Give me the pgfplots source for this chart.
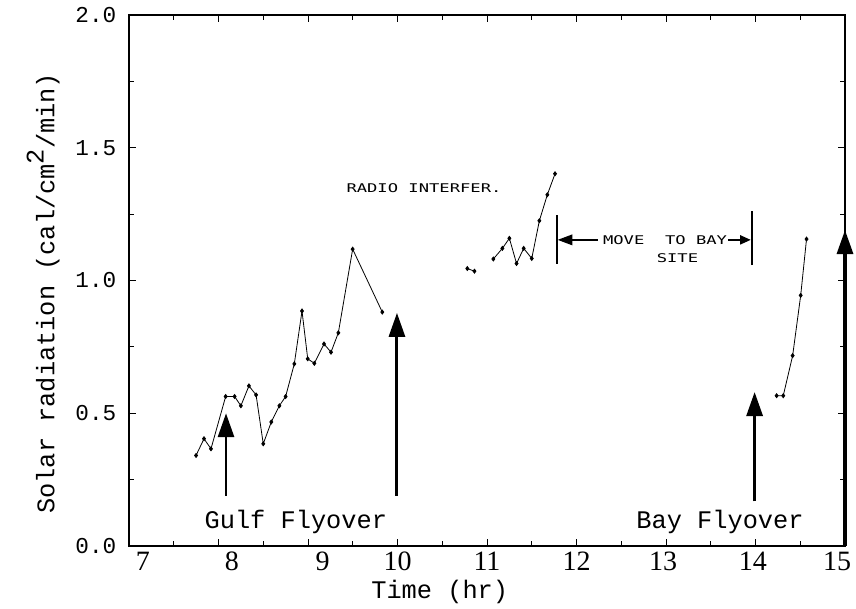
\documentclass[border=0pt]{standalone}
\usepackage{pgfplots}
\pgfplotsset{compat=1.18}
\usetikzlibrary{arrows.meta}
\usepackage{fontspec}
\setmainfont{Liberation Mono}
\newfontfamily\serifnum{Liberation Serif}
\newfontfamily\plotter[FakeStretch=1.43]{DejaVu Sans Mono}
\begin{document}
\begin{tikzpicture}
\begin{axis}[
  name=ax,
  scale only axis,
  width=537pt, height=398.25pt,
  xmin=7, xmax=15, ymin=0, ymax=2,
  xtick={7,8,...,15}, ytick={0,0.5,...,2},
  xticklabels={\hspace*{21pt}7,\hspace*{20pt}8,\hspace*{22pt}9,10,11,12,\hspace*{-4.5pt}13,\hspace*{-4pt}14,\hspace*{-12pt}15},
  minor x tick num=1, minor y tick num=1,
  tick align=inside,
  major tick length=5pt, minor tick length=4pt,
  axis line style={line width=0.9pt},
  every tick/.style={black, line width=0.7pt},
  clip=false,
  /pgf/number format/assume math mode=true,
  xticklabel style={font=\serifnum\fontsize{21}{23}\selectfont, yshift=-1pt},
  yticklabel style={font=\fontsize{17}{19}\selectfont, xshift=-6pt,
    /pgf/number format/.cd, fixed, fixed zerofill, precision=1},
  xlabel={Time (hr)},
  ylabel={Solar radiation (cal/cm\raisebox{0.8ex}{2}/min)},
  xlabel style={at={(axis description cs:0.434,-0.087)}, anchor=center,
    font=\fontsize{19}{21}\selectfont},
  ylabel style={at={(axis description cs:-0.120,0.476)}, anchor=center, rotate=0,
    font=\fontsize{19}{21}\selectfont},
]
\addplot[black, line width=0.6pt, mark=diamond*, mark size=1.5pt] coordinates {
(7.749,0.341) (7.838,0.404) (7.916,0.366) (8.080,0.563) (8.180,0.563)
(8.250,0.528) (8.340,0.603) (8.420,0.569) (8.500,0.385) (8.590,0.467)
(8.680,0.528) (8.750,0.563) (8.847,0.686) (8.933,0.885) (8.997,0.705)
(9.071,0.688) (9.179,0.761) (9.257,0.730) (9.339,0.803) (9.499,1.118)
(9.830,0.881)
};
\addplot[black, line width=0.6pt, mark=diamond*, mark size=1.5pt] coordinates {
(10.78,1.045) (10.86,1.035)
};
\addplot[black, line width=0.6pt, mark=diamond*, mark size=1.5pt] coordinates {
(11.071,1.081) (11.172,1.121) (11.250,1.159) (11.330,1.064) (11.410,1.121)
(11.500,1.083) (11.585,1.225) (11.674,1.323) (11.760,1.402)
};
\addplot[black, line width=0.6pt, mark=diamond*, mark size=1.5pt] coordinates {
(14.236,0.566) (14.310,0.566) (14.415,0.717) (14.505,0.944) (14.570,1.156)
};
% flyover arrows
\draw[line width=2.2pt, -{Triangle[length=18pt,width=12pt]}] (axis cs:8.084,0.189) -- (axis cs:8.084,0.500);
\draw[line width=2.2pt, -{Triangle[length=18pt,width=12pt]}] (axis cs:9.994,0.189) -- (axis cs:9.994,0.878);
\draw[line width=2.2pt, -{Triangle[length=18pt,width=12pt]}] (axis cs:13.99,0.168) -- (axis cs:13.99,0.580);
\draw[line width=2.4pt, -{Triangle[length=18pt,width=12pt]}] (axis cs:15,0) -- (axis cs:15,1.19);
\node[font=\fontsize{19}{21}\selectfont] at (axis cs:8.864,0.092) {Gulf Flyover};
\node[font=\fontsize{19}{21}\selectfont] at (axis cs:13.603,0.092) {Bay Flyover};
% move to bay site
\draw[line width=1.6pt] (axis cs:11.778,1.064) -- (axis cs:11.778,1.247);
\draw[line width=1.6pt] (axis cs:13.958,1.058) -- (axis cs:13.958,1.261);
\draw[line width=1pt, -{Triangle[length=11pt,width=8pt]}] (axis cs:12.24,1.153) -- (axis cs:11.79,1.153);
\draw[line width=1pt, -{Triangle[length=8pt,width=7pt]}] (axis cs:13.693,1.153) -- (axis cs:13.946,1.153);
\node[font=\plotter\fontsize{9}{10}\selectfont] at (axis cs:12.989,1.153) {MOVE\ \ TO BAY};
\node[font=\plotter\fontsize{9}{10}\selectfont] at (axis cs:13.128,1.083) {SITE};
\node[font=\plotter\fontsize{9}{10}\selectfont] at (axis cs:10.296,1.348) {RADIO INTERFER.};
\end{axis}
\pgfresetboundingbox
\path[use as bounding box] ([shift={(-96.75pt,-47.25pt)}]ax.south west) rectangle ([shift={(8.25pt,11.25pt)}]ax.north east);
\end{tikzpicture}
\end{document}
